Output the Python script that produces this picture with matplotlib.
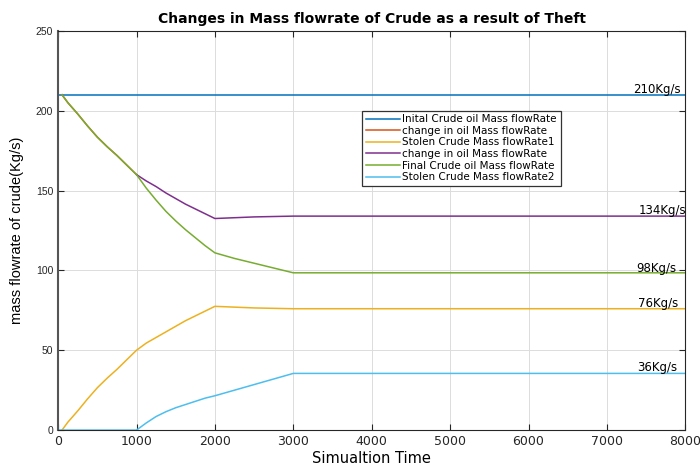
import matplotlib
matplotlib.use("Agg")
import matplotlib.pyplot as plt

plt.rcParams['font.family'] = ['Liberation Sans', 'DejaVu Sans']

# ---- data ----
t_initial = [0, 8000]
initial_flow = [210, 210]

t_change1 = [50, 125, 250, 375, 500, 625, 750, 875, 1000]
change1_flow = [210, 205, 198, 190.5, 183.5, 177.5, 172, 166, 160]

t_stolen1 = [50, 125, 250, 375, 500, 625, 750, 875, 1000, 1125, 1250, 1375,
             1500, 1625, 1750, 1875, 2000, 2500, 3000, 8000]
stolen1_flow = [0, 5, 12, 19.5, 26.5, 32.5, 38, 44, 50, 54.5, 58, 61.5,
                65, 68.5, 71.5, 74.5, 77.5, 76.5, 76, 76]

t_change2 = [1000, 1125, 1250, 1375, 1500, 1625, 1750, 1875, 2000, 2500, 3000, 8000]
change2_flow = [160, 156, 152.5, 148.5, 145, 141.5, 138.5, 135.5, 132.5, 133.5, 134, 134]

t_final = [50, 125, 250, 375, 500, 625, 750, 875, 1000, 1125, 1250, 1375, 1500,
           1625, 1750, 1875, 2000, 2250, 2500, 2750, 3000, 8000]
final_flow = [210, 205, 198, 190.5, 183.5, 177.5, 172, 166, 160, 151.5, 144, 137, 131,
              125.5, 120.5, 115.5, 111, 107.5, 104.5, 101.5, 98.5, 98.5]

t_stolen2 = [0, 1000, 1125, 1250, 1375, 1500, 1625, 1750, 1875, 2000, 2250, 2500,
             2750, 3000, 8000]
stolen2_flow = [0, 0, 4.5, 8.5, 11.5, 14, 16, 18, 20, 21.5, 25, 28.5,
                32, 35.5, 35.5]

labels = ["Inital Crude oil Mass flowRate",
          "change in oil Mass flowRate",
          "Stolen Crude Mass flowRate1",
          "change in oil Mass flowRate",
          "Final Crude oil Mass flowRate",
          "Stolen Crude Mass flowRate2"]

annot_text = ["210Kg/s", "134Kg/s", "98Kg/s", "76Kg/s", "36Kg/s"]
annot_y = [210, 134, 98, 76, 36]
annot_x = [7340, 7400, 7380, 7400, 7380]

colors = ["#0072BD", "#D95319", "#EDB120", "#7E2F8E", "#77AC30", "#4DBEEE"]

fig = plt.figure(figsize=(7.0, 4.68), dpi=100)
ax = fig.add_axes([0.083, 0.081, 0.896, 0.853])

series = [(t_initial, initial_flow), (t_change1, change1_flow),
          (t_stolen1, stolen1_flow), (t_change2, change2_flow),
          (t_final, final_flow), (t_stolen2, stolen2_flow)]
for (t, v), c, lab in zip(series, colors, labels):
    ax.plot(t, v, color=c, lw=1.1, label=lab)

for x, y, s in zip(annot_x, annot_y, annot_text):
    ax.text(x, y + 3.5, s, fontsize=8.5, family='DejaVu Sans',
            va='center', ha='left', color='black')

ax.set_xlim(0, 8000)
ax.set_ylim(0, 250)
ax.set_xticks(range(0, 8001, 1000))
ax.set_yticks(range(0, 251, 50))
ax.grid(True, color='#dcdcdc', lw=0.7)
ax.set_axisbelow(True)
ax.tick_params(direction='in', length=4, top=True, right=True,
               colors='#262626', width=0.8)
ax.tick_params(axis='y', labelsize=7.5)
ax.tick_params(axis='x', labelsize=9, labelfontfamily='DejaVu Sans')
for sp in ax.spines.values():
    sp.set_color('#262626')
    sp.set_linewidth(0.8)
ax.spines['left'].set_color('#555555')
ax.spines['left'].set_linewidth(1.5)

ax.set_title("Changes in Mass flowrate of Crude as a result of Theft",
             fontsize=10, fontweight='bold', family='DejaVu Sans', pad=6)
ax.set_xlabel("Simualtion Time", fontsize=10.5, family='DejaVu Sans')
ax.xaxis.set_label_coords(0.5, -0.052)
ax.set_ylabel("mass flowrate of crude(Kg/s)", fontsize=10.5)
ax.yaxis.set_label_coords(-0.055, 0.5)

leg = ax.legend(loc='upper left', bbox_to_anchor=(0.485, 0.80),
                prop={'family': 'DejaVu Sans', 'size': 7.5},
                handlelength=3.3, labelspacing=0.15, borderpad=0.35,
                handletextpad=0.2, borderaxespad=0, fancybox=False,
                framealpha=1, edgecolor='#333333')
leg.get_frame().set_linewidth(0.9)

fig.savefig("out.png", dpi=100)
